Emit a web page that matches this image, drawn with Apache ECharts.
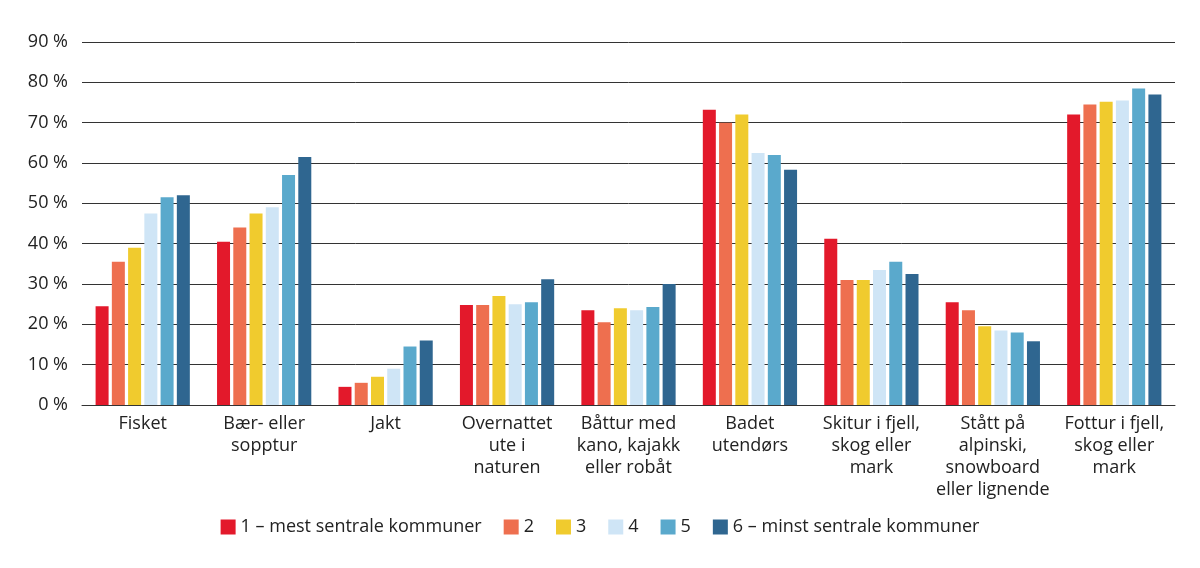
<!DOCTYPE html><html><head><meta charset="utf-8"><script src="https://cdn.jsdelivr.net/npm/echarts@6/dist/echarts.min.js"></script></head><body style="margin:0"><div id="c" style="width:1200px;height:568px"></div><script>
const categories=["Fisket","Bær- eller\nsopptur","Jakt","Overnattet\nute i\nnaturen","Båttur med\nkano, kajakk\neller robåt","Badet\nutendørs","Skitur i fjell,\nskog eller\nmark","Stått på\nalpinski,\nsnowboard\neller lignende","Fottur i fjell,\nskog eller\nmark"];
const seriesNames=["1 – mest sentrale kommuner","2","3","4","5","6 – minst sentrale kommuner"];
const s1=[24.5,40.5,4.5,24.8,23.5,73.2,41.2,25.5,72];
const s2=[35.5,44,5.5,24.8,20.5,70,31,23.5,74.5];
const s3=[39,47.5,7,27,24,72,31,19.5,75.2];
const s4=[47.5,49,9,25,23.5,62.5,33.5,18.5,75.5];
const s5=[51.5,57,14.5,25.5,24.3,62,35.5,18,78.5];
const s6=[52,61.5,16,31.2,30,58.3,32.5,15.8,77];
const colors=["#e3192b","#ee6f4f","#f0cb2e","#cfe5f6","#5aa9cc","#2f6690"];
const data=[s1,s2,s3,s4,s5,s6];
const F="Open Sans";
echarts.init(document.getElementById('c')).setOption({
 animation:false,color:colors,textStyle:{fontFamily:F},
 grid:{left:82,right:25,top:42,bottom:163},
 legend:{bottom:27,itemWidth:15,itemHeight:15,itemGap:22,icon:'rect',textStyle:{fontSize:18,color:'#222',fontFamily:F},data:seriesNames},
 xAxis:{type:'category',data:categories,axisTick:{show:false},axisLine:{lineStyle:{color:'#333'}},axisLabel:{fontSize:18,color:'#222',lineHeight:22,interval:0,margin:8}},
 yAxis:{type:'value',min:0,max:90,interval:10,axisLabel:{formatter:'{value} %',fontSize:18,color:'#222',margin:14},splitLine:{lineStyle:{color:'#333'}}},
 series:data.map((d,i)=>({name:seriesNames[i],type:'bar',data:d,barWidth:13,barGap:'25%',barCategoryGap:'20%'}))
});
</script></body></html>
